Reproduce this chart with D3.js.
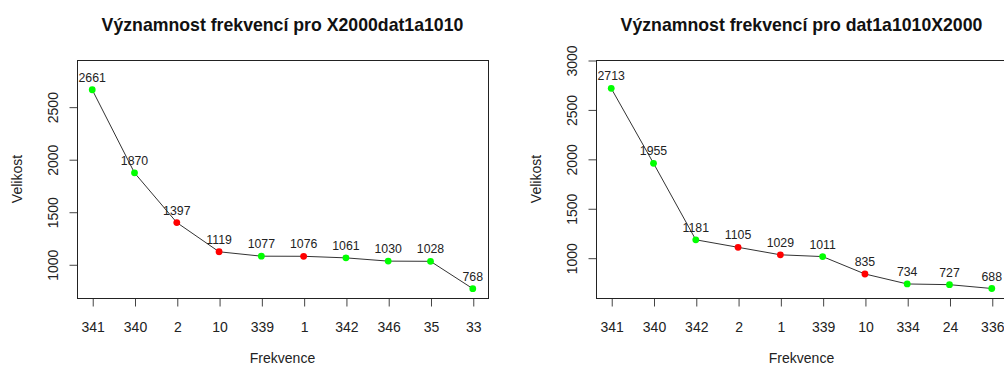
<!DOCTYPE html>
<html>
<head>
<meta charset="utf-8">
<script src="https://cdn.jsdelivr.net/npm/d3@7"></script>
<style>
  html, body { margin: 0; padding: 0; background: #fff; }
  svg { display: block; font-family: "Liberation Sans", Arial, sans-serif; }
</style>
</head>
<body>
<svg id="chart" width="1004" height="365"></svg>
<script>
// ---- data ----
const leftTitle = "Významnost frekvencí pro X2000dat1a1010";
const leftCategories = ["341", "340", "2", "10", "339", "1", "342", "346", "35", "33"];
const leftValues = [2661, 1870, 1397, 1119, 1077, 1076, 1061, 1030, 1028, 768];
const leftSignificant = [1, 1, 0, 0, 1, 0, 1, 1, 1, 1];
const leftYTicks = [1000, 1500, 2000, 2500];
const leftYLimits = [679, 2944];

const rightTitle = "Významnost frekvencí pro dat1a1010X2000";
const rightCategories = ["341", "340", "342", "2", "1", "339", "10", "334", "24", "336"];
const rightValues = [2713, 1955, 1181, 1105, 1029, 1011, 835, 734, 727, 688];
const rightSignificant = [1, 1, 1, 0, 0, 1, 0, 1, 1, 1];
const rightYTicks = [1000, 1500, 2000, 2500, 3000];
const rightYLimits = [592, 3000];

const xLabel = "Frekvence";
const yLabel = "Velikost";

// ---- drawing ----
const svg = d3.select("#chart");
const colorScale = d3.scaleOrdinal().domain([0, 1]).range(["#ff0000", "#00ff00"]);

function panel(opts) {
  const { left, top, width, height } = opts.box;
  const g = svg.append("g");
  const x = d3.scalePoint().domain(d3.range(opts.categories.length))
    .range([left, left + width]).padding(0.36);
  const y = d3.scaleLinear().domain(opts.yLimits).range([top + height, top]);

  // title
  g.append("text")
    .attr("x", left + width / 2).attr("y", 30.5)
    .attr("text-anchor", "middle")
    .attr("font-size", 17.7).attr("font-weight", "bold")
    .attr("fill", "#111")
    .text(opts.title);

  // x axis
  const xAxis = d3.axisBottom(x)
    .tickSizeInner(8).tickSizeOuter(0).tickPadding(16)
    .tickFormat(i => opts.categories[i]);
  const xg = g.append("g")
    .attr("transform", `translate(0.5,${top + height + 0.5})`)
    .call(xAxis);
  xg.select(".domain").remove();
  xg.selectAll(".tick line").attr("stroke", "#444");
  xg.selectAll(".tick text").attr("font-size", 14).attr("fill", "#222")
    .attr("font-family", "Liberation Sans, Arial, sans-serif");

  // y axis
  const yAxis = d3.axisLeft(y).tickValues(opts.yTicks)
    .tickSizeInner(8).tickSizeOuter(0).tickPadding(8)
    .tickFormat(d3.format("d"));
  const yg = g.append("g")
    .attr("transform", `translate(${left + 0.5},0.5)`)
    .call(yAxis);
  yg.select(".domain").remove();
  yg.selectAll(".tick line").attr("stroke", "#444");
  yg.selectAll(".tick text")
    .attr("font-size", 14).attr("fill", "#222")
    .attr("font-family", "Liberation Sans, Arial, sans-serif")
    .attr("text-anchor", "middle")
    .attr("x", null).attr("dy", null)
    .attr("transform", "translate(-20,0) rotate(-90)");

  // box
  g.append("rect")
    .attr("x", left + 0.5).attr("y", top + 0.5)
    .attr("width", width).attr("height", height)
    .attr("fill", "none").attr("stroke", "#222").attr("stroke-width", 1);

  // axis titles
  g.append("text")
    .attr("x", left + width / 2).attr("y", 363)
    .attr("text-anchor", "middle").attr("font-size", 14).attr("fill", "#222")
    .text(xLabel);
  g.append("text")
    .attr("transform", `translate(${left - 55},${top + height / 2}) rotate(-90)`)
    .attr("text-anchor", "middle").attr("font-size", 14).attr("fill", "#222")
    .text(yLabel);

  // line
  const line = d3.line().x((d, i) => x(i)).y(d => y(d));
  g.append("path")
    .datum(opts.values)
    .attr("d", line)
    .attr("fill", "none").attr("stroke", "#333").attr("stroke-width", 1);

  // points
  g.selectAll("circle.pt").data(opts.values).join("circle")
    .attr("class", "pt")
    .attr("cx", (d, i) => x(i)).attr("cy", d => y(d))
    .attr("r", 3.4)
    .attr("fill", (d, i) => colorScale(opts.significant[i]));

  // value labels
  g.selectAll("text.val").data(opts.values).join("text")
    .attr("class", "val")
    .attr("x", (d, i) => x(i)).attr("y", d => y(d) - 8)
    .attr("text-anchor", "middle").attr("font-size", 12.3).attr("fill", "#222")
    .text(d => d);
}

panel({
  box: { left: 77, top: 60, width: 411, height: 238 },
  title: leftTitle, categories: leftCategories, values: leftValues,
  significant: leftSignificant, yTicks: leftYTicks, yLimits: leftYLimits
});
panel({
  box: { left: 596, top: 60, width: 411, height: 238 },
  title: rightTitle, categories: rightCategories, values: rightValues,
  significant: rightSignificant, yTicks: rightYTicks, yLimits: rightYLimits
});
</script>
</body>
</html>
